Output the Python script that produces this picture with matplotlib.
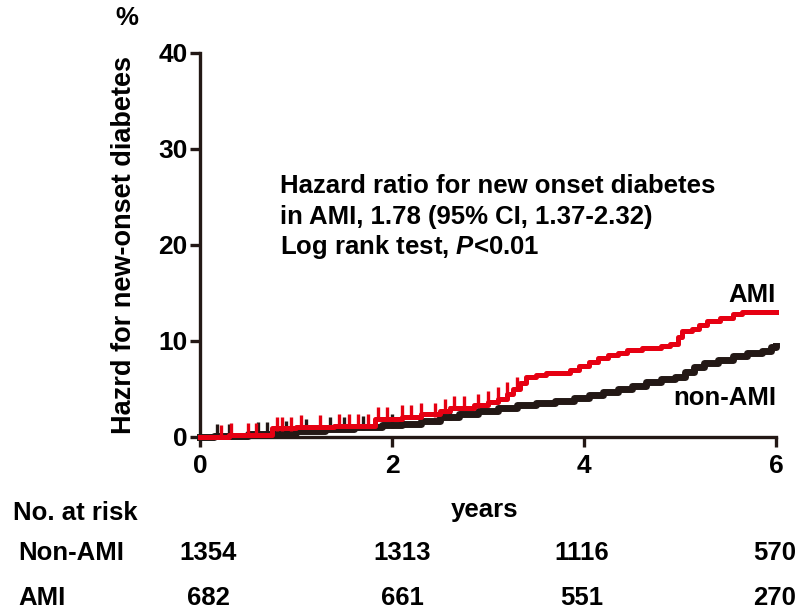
import numpy as np
import matplotlib
matplotlib.use('Agg')
import matplotlib.pyplot as plt

plt.rcParams['font.family'] = ['Liberation Sans', 'DejaVu Sans']
plt.rcParams['font.weight'] = 'bold'
plt.rcParams['mathtext.fontset'] = 'custom'
plt.rcParams['mathtext.it'] = 'Liberation Sans:italic:bold'
plt.rcParams['mathtext.rm'] = 'Liberation Sans:bold'

# Step curves (years, %)
ami_t = [0, 0.30, 0.75, 1.0, 1.4, 1.82, 2.1, 2.3, 2.5, 2.6, 2.85, 3.0, 3.1, 3.2,
         3.26, 3.33, 3.4, 3.5, 3.6, 3.85, 3.95, 4.05, 4.15, 4.25, 4.35, 4.45,
         4.6, 4.8, 4.9, 4.98, 5.02, 5.12, 5.2, 5.28, 5.42, 5.55, 5.65, 6.0]
ami_v = [0, 0.25, 0.9, 1.05, 1.15, 1.9, 2.1, 2.35, 2.7, 3.0, 3.3, 3.6, 4.0, 4.5,
         5.0, 5.6, 6.2, 6.5, 6.7, 7.0, 7.4, 7.8, 8.2, 8.5, 8.8, 9.1,
         9.3, 9.5, 9.7, 10.4, 11.0, 11.3, 11.7, 12.1, 12.4, 12.8, 13.0, 13.0]
non_t = [0, 0.15, 0.5, 0.77, 1.0, 1.3, 1.6, 1.9, 2.1, 2.3, 2.5, 2.7, 2.9, 3.1,
         3.3, 3.5, 3.7, 3.9, 4.05, 4.2, 4.35, 4.5, 4.65, 4.8, 4.95, 5.05, 5.15,
         5.25, 5.4, 5.55, 5.7, 5.85, 5.95, 6.0]
non_v = [0, 0.15, 0.3, 0.45, 0.65, 0.85, 1.0, 1.2, 1.4, 1.7, 2.05, 2.35, 2.7, 3.0,
         3.3, 3.55, 3.8, 4.1, 4.4, 4.7, 5.0, 5.35, 5.7, 6.0, 6.3, 6.8, 7.3,
         7.7, 8.0, 8.4, 8.7, 9.0, 9.4, 9.5]

# censored times
ami_cens = [0.22, 0.32, 0.5, 0.58, 0.8, 0.85, 0.95, 1.05, 1.25, 1.45, 1.55, 1.65,
            1.75, 1.85, 1.95, 2.1, 2.2, 2.3, 2.45, 2.55, 2.65, 2.75, 2.9, 3.0,
            3.1, 3.2, 3.3]
non_cens = [0.18, 0.3, 0.6, 0.7, 0.9, 1.1, 1.35, 1.5, 1.7, 2.0, 2.6]

# numbers at risk
risk_years = [0, 2, 4, 6]
risk_non = [1354, 1313, 1116, 570]
risk_ami = [682, 661, 551, 270]

def step_at(tt, vv, x):
    idx = np.searchsorted(tt, x, side='right') - 1
    return np.array(vv)[idx]

fs = 18.5
fig = plt.figure(figsize=(8.04, 6.15), dpi=100)
ax = fig.add_axes([200/804, 1-437/615, 576/804, 384/615])

ax.step(non_t, non_v, where='post', color='#231815', lw=5, clip_on=False, zorder=3)
ax.step(ami_t, ami_v, where='post', color='#e60012', lw=3.6, clip_on=False, zorder=4)
ax.plot(non_cens, step_at(non_t, non_v, non_cens) + 0.5, ls='none', marker='|',
        ms=10, mew=2.4, color='#231815', zorder=3)
ax.plot(ami_cens, step_at(ami_t, ami_v, ami_cens) + 0.5, ls='none', marker='|',
        ms=10, mew=2.4, color='#e60012', zorder=4)

ax.set_xlim(0, 6)
ax.set_ylim(0, 40)
ax.set_xticks([0, 2, 4, 6])
ax.set_yticks([0, 10, 20, 30, 40])
for s in ['top', 'right']:
    ax.spines[s].set_visible(False)
for s in ['left', 'bottom']:
    ax.spines[s].set_linewidth(2.4)
    ax.spines[s].set_color('#231815')
ax.tick_params(width=2.4, length=7, labelsize=19, color='#231815', pad=2)
ax.tick_params(axis='x', pad=5)
ax.set_ylabel('Hazrd for new-onset diabetes', fontsize=19.5, fontweight='bold')
ax.yaxis.set_label_coords(-0.11, 0.5)

fig.text(127/804, 1-18/615, '%', fontsize=fs, fontweight='bold', ha='center', va='center')

# annotation
fig.text(280/804, 1-186/615, 'Hazard ratio for new onset diabetes', fontsize=fs,
         fontweight='bold', va='center')
fig.text(280/804, 1-217/615, 'in AMI, 1.78 (95% CI, 1.37-2.32)', fontsize=fs,
         fontweight='bold', va='center')
fig.text(280/804, 1-247/615, 'Log rank test, $\\it{P}$<0.01', fontsize=fs,
         fontweight='bold', va='center')
fig.text(776/804, 1-295/615, 'AMI', fontsize=fs, fontweight='bold', ha='right', va='center')
fig.text(776/804, 1-398/615, 'non-AMI', fontsize=fs, fontweight='bold', ha='right', va='center')

# risk table
fig.text(13/804, 1-513/615, 'No. at risk', fontsize=fs, fontweight='bold', va='center')
fig.text(485/804, 1-510/615, 'years', fontsize=fs, fontweight='bold', va='center', ha='center')
fig.text(18/804, 1-553/615, 'Non-AMI', fontsize=fs, fontweight='bold', va='center')
fig.text(18/804, 1-598/615, 'AMI', fontsize=fs, fontweight='bold', va='center')
row_x = [208, 402, 582, 775]
for yr, px, a, b in zip(risk_years, row_x, risk_non, risk_ami):
    fig.text(px/804, 1-553/615, str(a), fontsize=fs, fontweight='bold', va='center', ha='center')
    fig.text(px/804, 1-598/615, str(b), fontsize=fs, fontweight='bold', va='center', ha='center')

fig.savefig('out.png', dpi=100)
